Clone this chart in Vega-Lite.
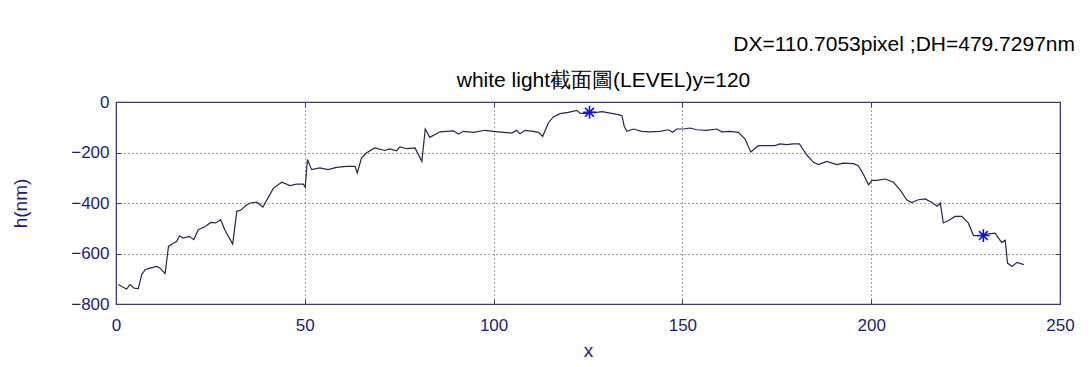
{
  "$schema": "https://vega.github.io/schema/vega-lite/v6.json",
  "width": 944,
  "height": 202,
  "autosize": "none",
  "padding": {"left": 116, "top": 102, "right": 32, "bottom": 63},
  "background": "white",
  "config": {
    "font": "Liberation Sans",
    "view": {"stroke": "#3c3c6e", "strokeWidth": 1.2}
  },
  "title": {
    "text": "DX=110.7053pixel ;DH=479.7297nm",
    "fontSize": 21,
    "font": "Liberation Sans",
    "fontWeight": "normal",
    "color": "#000000",
    "anchor": "end",
    "frame": "group",
    "offset": 14,
    "dx": 15
  },
  "datasets": {
    "profile": [
      {"x": 0.6, "h": -723}, {"x": 1.9, "h": -734}, {"x": 2.8, "h": -741}, {"x": 3.7, "h": -723},
      {"x": 4.8, "h": -737}, {"x": 5.9, "h": -739}, {"x": 6.8, "h": -684}, {"x": 7.7, "h": -664},
      {"x": 9.0, "h": -658}, {"x": 10.8, "h": -651}, {"x": 11.7, "h": -658}, {"x": 13.0, "h": -680},
      {"x": 13.9, "h": -572}, {"x": 15.2, "h": -559}, {"x": 16.1, "h": -552}, {"x": 16.8, "h": -530},
      {"x": 17.8, "h": -539}, {"x": 19.4, "h": -532}, {"x": 20.6, "h": -545}, {"x": 21.8, "h": -506},
      {"x": 23.6, "h": -493}, {"x": 25.1, "h": -477}, {"x": 26.4, "h": -479}, {"x": 27.7, "h": -466},
      {"x": 28.8, "h": -506}, {"x": 30.9, "h": -563}, {"x": 32.0, "h": -433}, {"x": 33.0, "h": -429},
      {"x": 34.4, "h": -410}, {"x": 35.5, "h": -400}, {"x": 37.3, "h": -397}, {"x": 38.9, "h": -416},
      {"x": 41.7, "h": -341}, {"x": 43.9, "h": -318}, {"x": 46.1, "h": -331}, {"x": 47.8, "h": -325},
      {"x": 49.6, "h": -325}, {"x": 50.1, "h": -338}, {"x": 50.7, "h": -228}, {"x": 51.8, "h": -268},
      {"x": 54.0, "h": -261}, {"x": 56.2, "h": -268}, {"x": 58.4, "h": -259}, {"x": 61.0, "h": -255},
      {"x": 63.3, "h": -255}, {"x": 63.9, "h": -281}, {"x": 65.0, "h": -222}, {"x": 66.3, "h": -202},
      {"x": 68.5, "h": -182}, {"x": 71.2, "h": -192}, {"x": 72.5, "h": -186}, {"x": 74.3, "h": -193},
      {"x": 75.2, "h": -178}, {"x": 77.0, "h": -185}, {"x": 79.2, "h": -182}, {"x": 81.0, "h": -235},
      {"x": 81.9, "h": -107}, {"x": 83.1, "h": -140}, {"x": 85.8, "h": -118}, {"x": 87.6, "h": -116},
      {"x": 89.4, "h": -114}, {"x": 90.7, "h": -127}, {"x": 92.0, "h": -116}, {"x": 94.7, "h": -120},
      {"x": 97.7, "h": -112}, {"x": 99.9, "h": -116}, {"x": 102.6, "h": -120}, {"x": 104.8, "h": -123},
      {"x": 106.1, "h": -112}, {"x": 107.0, "h": -126}, {"x": 108.3, "h": -112}, {"x": 110.5, "h": -116},
      {"x": 111.9, "h": -120}, {"x": 113.0, "h": -136}, {"x": 114.5, "h": -83}, {"x": 115.8, "h": -59},
      {"x": 117.6, "h": -46}, {"x": 119.8, "h": -41}, {"x": 122.0, "h": -33}, {"x": 122.9, "h": -44},
      {"x": 124.2, "h": -46}, {"x": 125.4, "h": -41}, {"x": 127.3, "h": -41}, {"x": 128.7, "h": -38},
      {"x": 130.9, "h": -44}, {"x": 133.0, "h": -50}, {"x": 134.0, "h": -54}, {"x": 134.6, "h": -97},
      {"x": 135.3, "h": -116}, {"x": 137.0, "h": -107}, {"x": 139.2, "h": -116}, {"x": 141.4, "h": -118},
      {"x": 144.0, "h": -116}, {"x": 146.3, "h": -110}, {"x": 147.4, "h": -120}, {"x": 148.5, "h": -107},
      {"x": 150.3, "h": -107}, {"x": 152.0, "h": -103}, {"x": 153.8, "h": -110}, {"x": 156.4, "h": -112},
      {"x": 159.1, "h": -107}, {"x": 160.4, "h": -118}, {"x": 162.6, "h": -116}, {"x": 164.8, "h": -120},
      {"x": 166.6, "h": -147}, {"x": 168.1, "h": -198}, {"x": 170.1, "h": -173}, {"x": 172.3, "h": -173},
      {"x": 174.5, "h": -173}, {"x": 175.8, "h": -166}, {"x": 177.6, "h": -169}, {"x": 179.4, "h": -166},
      {"x": 181.0, "h": -166}, {"x": 182.0, "h": -189}, {"x": 182.9, "h": -209}, {"x": 184.7, "h": -239},
      {"x": 186.0, "h": -248}, {"x": 188.2, "h": -235}, {"x": 190.9, "h": -248}, {"x": 192.6, "h": -242},
      {"x": 195.3, "h": -244}, {"x": 196.6, "h": -252}, {"x": 198.0, "h": -288}, {"x": 199.3, "h": -328},
      {"x": 200.2, "h": -310}, {"x": 201.5, "h": -310}, {"x": 203.7, "h": -305}, {"x": 205.9, "h": -318},
      {"x": 207.6, "h": -347}, {"x": 209.4, "h": -387}, {"x": 210.7, "h": -398}, {"x": 212.5, "h": -387},
      {"x": 214.3, "h": -384}, {"x": 216.3, "h": -400}, {"x": 217.4, "h": -413}, {"x": 218.3, "h": -400},
      {"x": 219.1, "h": -479}, {"x": 220.5, "h": -469}, {"x": 222.2, "h": -453}, {"x": 224.0, "h": -453},
      {"x": 225.7, "h": -479}, {"x": 227.1, "h": -529}, {"x": 228.8, "h": -529}, {"x": 229.7, "h": -529},
      {"x": 231.1, "h": -522}, {"x": 232.8, "h": -519}, {"x": 234.0, "h": -545}, {"x": 234.6, "h": -556},
      {"x": 235.5, "h": -548}, {"x": 236.1, "h": -638}, {"x": 237.3, "h": -651}, {"x": 238.6, "h": -635},
      {"x": 240.4, "h": -644}
    ],
    "stars": [
      {"x": 125.4, "h": -41},
      {"x": 229.7, "h": -529}
    ]
  },
  "layer": [
    {
      "data": {"name": "profile"},
      "mark": {"type": "line", "color": "#26264e", "strokeWidth": 1.2, "interpolate": "linear"},
      "encoding": {
        "x": {
          "field": "x", "type": "quantitative",
          "scale": {"domain": [0, 250], "nice": false, "zero": false},
          "axis": {
            "orient": "bottom",
            "values": [0, 50, 100, 150, 200, 250],
            "format": "d",
            "labelFlush": false,
            "tickSize": -5,
            "tickColor": "#3c3c6e",
            "domainColor": "#3c3c6e",
            "labelPadding": 18,
            "labelFontSize": 17,
            "labelColor": "#1c1c78",
            "labelFont": "Liberation Sans",
            "grid": true,
            "gridColor": "#303030",
            "gridDash": [1, 3],
            "gridOpacity": 0.9,
            "title": "x",
            "titleFont": "Liberation Sans",
            "titleFontSize": 19,
            "titleFontWeight": "normal",
            "titleColor": "#1c1c78",
            "titlePadding": 8
          }
        },
        "y": {
          "field": "h", "type": "quantitative",
          "scale": {"domain": [-800, 0], "nice": false, "zero": false},
          "axis": {
            "orient": "left",
            "values": [-800, -600, -400, -200, 0],
            "format": "d",
            "labelFlush": false,
            "tickSize": -5,
            "tickColor": "#3c3c6e",
            "domainColor": "#3c3c6e",
            "labelPadding": 12,
            "labelFontSize": 17,
            "labelColor": "#1c1c78",
            "labelFont": "Liberation Sans",
            "grid": true,
            "gridColor": "#303030",
            "gridDash": [1, 3],
            "gridOpacity": 0.9,
            "title": "h(nm)",
            "titleFont": "Liberation Sans",
            "titleFontSize": 19,
            "titleFontWeight": "normal",
            "titleColor": "#1c1c78",
            "titlePadding": 40
          }
        }
      }
    },
    {
      "data": {"name": "stars"},
      "mark": {
        "type": "point",
        "shape": "M0,-1L0,1M-1,0L1,0M-0.7,-0.7L0.7,0.7M-0.7,0.7L0.7,-0.7",
        "filled": false,
        "stroke": "#1010ee",
        "strokeWidth": 1.6,
        "size": 160,
        "opacity": 1
      },
      "encoding": {
        "x": {
          "field": "x", "type": "quantitative",
          "scale": {"domain": [0, 250], "nice": false, "zero": false},
          "axis": {
            "orient": "top",
            "values": [50, 100, 150, 200],
            "labels": false,
            "grid": false,
            "tickSize": -5,
            "tickColor": "#3c3c6e",
            "domainColor": "#3c3c6e",
            "title": "white light截面圖(LEVEL)y=120",
            "titleFont": "Liberation Sans",
            "titleFontSize": 21,
            "titleFontWeight": "normal",
            "titleColor": "#000000",
            "titleAlign": "center",
            "titleBaseline": "alphabetic",
            "titleX": 487,
            "titleY": -16
          }
        },
        "y": {
          "field": "h", "type": "quantitative",
          "scale": {"domain": [-800, 0], "nice": false, "zero": false},
          "axis": {
            "orient": "right",
            "values": [-600, -400, -200],
            "labels": false,
            "grid": false,
            "tickSize": -5,
            "tickColor": "#3c3c6e",
            "domainColor": "#3c3c6e",
            "title": null
          }
        }
      }
    }
  ],
  "resolve": {"axis": {"x": "independent", "y": "independent"}}
}
